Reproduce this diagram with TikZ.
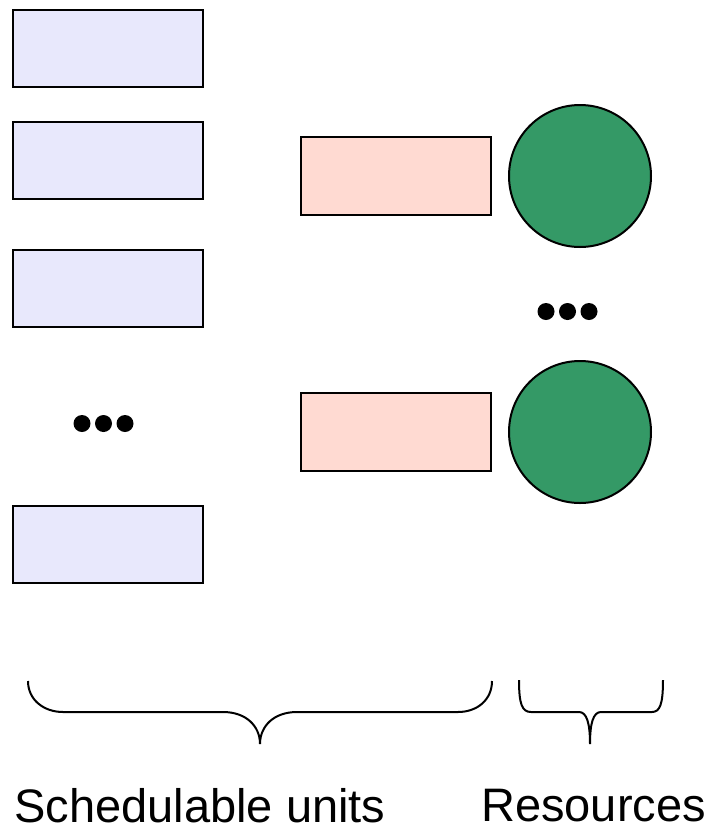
\documentclass[tikz,border=0pt]{standalone}
\usepackage{fontspec}
\setmainfont{Liberation Sans}
\definecolor{unitfill}{RGB}{232,232,252}
\definecolor{pinkfill}{RGB}{255,218,210}
\definecolor{resgreen}{RGB}{52,153,102}
\begin{document}
\begin{tikzpicture}[x=1pt,y=-1pt,
  unitbox/.style={draw=black,line width=2pt,fill=unitfill,minimum width=190pt,minimum height=77pt,inner sep=0pt},
  pinkbox/.style={draw=black,line width=2pt,fill=pinkfill,minimum width=190pt,minimum height=78pt,inner sep=0pt},
  resnode/.style={circle,draw=black,line width=2pt,fill=resgreen,minimum size=142pt,inner sep=0pt},
  dotnode/.style={circle,fill=black,minimum size=17pt,inner sep=0pt},
  bracepath/.style={draw=black,line width=2pt},
  label/.style={font=\fontsize{47}{52}\selectfont,inner sep=0pt,anchor=base}]
\useasboundingbox (0,0) rectangle (711,828);
% schedulable units
\node[unitbox] (u1) at (108,48.5) {};
\node[unitbox] (u2) at (108,160.5) {};
\node[unitbox] (u3) at (108,288.5) {};
\node[unitbox] (u4) at (108,544.5) {};
\node[dotnode] (d1) at (82,423.5) {};
\node[dotnode] (d2) at (103.5,423.5) {};
\node[dotnode] (d3) at (125,423.5) {};
% pink boxes
\node[pinkbox] (p1) at (396,176) {};
\node[pinkbox] (p2) at (396,432) {};
% resources
\node[resnode] (r1) at (580,176) {};
\node[resnode] (r2) at (580,432) {};
\node[dotnode] (e1) at (546,311.5) {};
\node[dotnode] (e2) at (567.5,311.5) {};
\node[dotnode] (e3) at (589,311.5) {};
% braces
\coordinate (b1l) at (28,681);
\coordinate (b1t) at (260,744);
\coordinate (b1r) at (492,681);
\draw[bracepath] (b1l) .. controls (28,700) and (44,712) .. (63,712) -- (223,712)
  .. controls (246,712) and (260,726) .. (b1t)
  .. controls (260,726) and (274,712) .. (297,712) -- (458,712)
  .. controls (477,712) and (492,700) .. (b1r);
\coordinate (b2l) at (519,680);
\coordinate (b2t) at (590,744);
\coordinate (b2r) at (663,680);
\draw[bracepath] (b2l) .. controls (519,704) and (522,712) .. (531,712) -- (579,712)
  .. controls (587,712) and (590,724) .. (b2t)
  .. controls (590,724) and (593,712) .. (601,712) -- (652,712)
  .. controls (660,712) and (663,704) .. (b2r);
% labels
\node[label] (t1) at (200,822.5) {Schedulable units};
\node[label] (t2) at (593.5,821.5) {Resources};
\end{tikzpicture}
\end{document}
